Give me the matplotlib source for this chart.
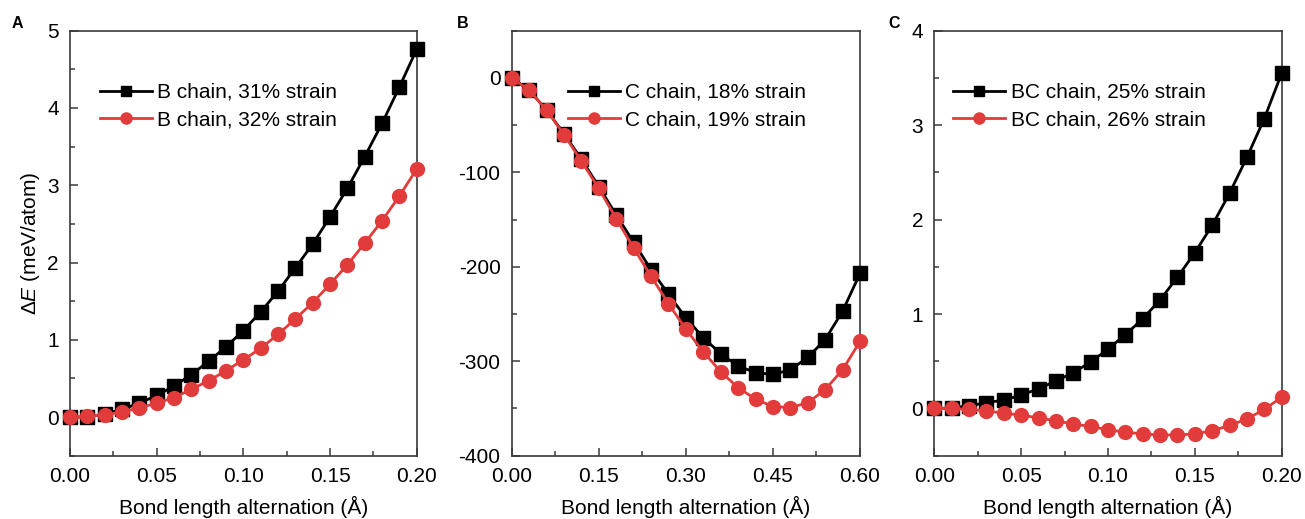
import numpy as np
import matplotlib
matplotlib.use("Agg")
import matplotlib.pyplot as plt
from matplotlib.ticker import MultipleLocator, FormatStrFormatter

plt.rcParams['font.family'] = ['Liberation Sans', 'DejaVu Sans']
plt.rcParams['mathtext.fontset'] = 'custom'
plt.rcParams['mathtext.rm'] = 'Liberation Sans'
plt.rcParams['mathtext.it'] = 'Liberation Sans:italic'
plt.rcParams['axes.unicode_minus'] = False

# Bond length alternation grids (Å)
bla_b = [round(0.01 * i, 2) for i in range(21)]
bla_c = [round(0.03 * i, 2) for i in range(21)]
bla_bc = [round(0.01 * i, 2) for i in range(21)]

# Panel A: B chain energies (meV/atom)
b31 = [0.0, 0.0, 0.04, 0.10, 0.18, 0.28, 0.40, 0.55, 0.72, 0.91, 1.12,
       1.36, 1.63, 1.93, 2.24, 2.59, 2.96, 3.37, 3.80, 4.27, 4.76]
b32 = [0.0, 0.01, 0.03, 0.065, 0.12, 0.18, 0.25, 0.36, 0.47, 0.60, 0.74,
       0.89, 1.07, 1.27, 1.48, 1.72, 1.97, 2.25, 2.54, 2.86, 3.21]

# Panel B: C chain energies (meV/atom)
c18 = [0, -13, -34, -59, -86, -115, -145, -174, -203, -229, -254,
       -275, -292, -305, -312, -314, -309, -296, -277, -247, -207]
c19 = [0, -13, -34, -60, -88, -117, -149, -180, -210, -239, -266,
       -290, -311, -328, -340, -348, -349, -344, -330, -309, -279]

# Panel C: BC chain energies (meV/atom)
bc25 = [0.0, 0.005, 0.03, 0.06, 0.09, 0.14, 0.21, 0.29, 0.38, 0.49, 0.63,
        0.78, 0.95, 1.15, 1.39, 1.65, 1.94, 2.28, 2.66, 3.07, 3.55]
bc26 = [0.0, 0.0, -0.01, -0.025, -0.05, -0.07, -0.10, -0.13, -0.165, -0.19, -0.225,
        -0.25, -0.27, -0.28, -0.28, -0.27, -0.235, -0.18, -0.11, -0.01, 0.12]

labels_a = ["B chain, 31% strain", "B chain, 32% strain"]
labels_b = ["C chain, 18% strain", "C chain, 19% strain"]
labels_c = ["BC chain, 25% strain", "BC chain, 26% strain"]

BLACK = "#000000"
RED = "#e23b3b"
SPINE = "#3a3a3a"
FS = 15

fig = plt.figure(figsize=(13.05, 5.19), dpi=100)
W, H = 1305, 519

def make_axes(left_px, right_px):
    top_px, bottom_px = 30.7, 455.7
    return fig.add_axes([left_px / W, 1 - bottom_px / H,
                         (right_px - left_px) / W, (bottom_px - top_px) / H])

ax_a = make_axes(70, 416.7)
ax_b = make_axes(511.7, 860)
ax_c = make_axes(934.3, 1281.7)

def draw(ax, x, y1, y2, labels, xlim, ylim, xmaj, xmin, ymaj, ymin, xfmt, legx):
    ax.plot(x, y1, color=BLACK, lw=2.0, marker='s', ms=9.5, label=labels[0],
            clip_on=False, zorder=3)
    ax.plot(x, y2, color=RED, lw=2.0, marker='o', ms=10, label=labels[1],
            clip_on=False, zorder=4)
    ax.set_xlim(*xlim)
    ax.set_ylim(*ylim)
    ax.xaxis.set_major_locator(MultipleLocator(xmaj))
    ax.xaxis.set_minor_locator(MultipleLocator(xmin))
    ax.yaxis.set_major_locator(MultipleLocator(ymaj))
    ax.yaxis.set_minor_locator(MultipleLocator(ymin))
    ax.xaxis.set_major_formatter(FormatStrFormatter(xfmt))
    ax.tick_params(which='both', direction='in', top=False, right=False,
                   color=SPINE, width=1.1, labelsize=FS, pad=8)
    ax.tick_params(which='major', length=5.5)
    ax.tick_params(which='minor', length=3.5)
    for s in ax.spines.values():
        s.set_color(SPINE)
        s.set_linewidth(1.2)
    ax.set_xlabel("Bond length alternation (Å)", fontsize=FS, labelpad=7)
    leg = ax.legend(loc='upper left', bbox_to_anchor=(legx, 0.877),
                    frameon=False, fontsize=FS, handlelength=2.5,
                    handletextpad=0.25, labelspacing=0.4, borderaxespad=0,
                    borderpad=0, markerscale=0.8)
    return leg

draw(ax_a, bla_b, b31, b32, labels_a, (0, 0.2), (-0.5, 5),
     0.05, 0.025, 1, 0.5, '%.2f', 0.087)
ax_a.yaxis.set_major_formatter(FormatStrFormatter('%d'))
ax_a.set_ylabel(r"$\Delta\mathit{E}$ (meV/atom)", fontsize=FS, labelpad=4)

draw(ax_b, bla_c, c18, c19, labels_b, (0, 0.6), (-400, 50),
     0.15, 0.075, 100, 50, '%.2f', 0.162)

draw(ax_c, bla_bc, bc25, bc26, labels_c, (0, 0.2), (-0.5, 4),
     0.05, 0.025, 1, 0.5, '%.2f', 0.055)
ax_c.yaxis.set_major_formatter(FormatStrFormatter('%d'))

for lab, xp in (("A", 17.5), ("B", 462.5), ("C", 894)):
    fig.text(xp / W, 1 - 23 / H, lab, fontsize=11.5, fontweight='bold',
             ha='center', va='center')

fig.savefig("out.png", dpi=100)
